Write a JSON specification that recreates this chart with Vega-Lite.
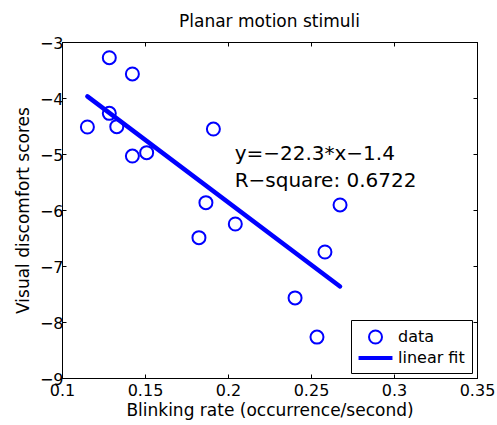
{
  "$schema": "https://vega.github.io/schema/vega-lite/v6.json",
  "width": 415,
  "height": 336,
  "autosize": {"type": "none"},
  "padding": {"left": 62, "top": 42, "right": 20, "bottom": 47},
  "background": "white",
  "config": {
    "font": "DejaVu Sans",
    "view": {"stroke": "black", "strokeWidth": 1},
    "axis": {
      "grid": false,
      "domainColor": "black",
      "domainWidth": 1,
      "tickColor": "black",
      "tickWidth": 1,
      "tickSize": -4,
      "labelFlush": false,
      "labelColor": "black",
      "labelFont": "DejaVu Sans",
      "labelFontSize": 16,
      "titleColor": "black",
      "titleFont": "DejaVu Sans",
      "titleFontSize": 17,
      "titleFontWeight": "normal"
    }
  },
  "title": {
    "text": "Planar motion stimuli",
    "font": "DejaVu Sans",
    "fontSize": 17,
    "fontWeight": "normal",
    "color": "black",
    "baseline": "alphabetic",
    "offset": -9
  },
  "datasets": {
    "points": [
      {"rate": 0.1153, "score": -4.518, "series": "data"},
      {"rate": 0.1285, "score": -3.28, "series": "data"},
      {"rate": 0.1285, "score": -4.274, "series": "data"},
      {"rate": 0.133, "score": -4.512, "series": "data"},
      {"rate": 0.1424, "score": -3.571, "series": "data"},
      {"rate": 0.1424, "score": -5.036, "series": "data"},
      {"rate": 0.151, "score": -4.976, "series": "data"},
      {"rate": 0.1912, "score": -4.554, "series": "data"},
      {"rate": 0.1867, "score": -5.869, "series": "data"},
      {"rate": 0.1825, "score": -6.494, "series": "data"},
      {"rate": 0.2044, "score": -6.25, "series": "data"},
      {"rate": 0.2675, "score": -5.91, "series": "data"},
      {"rate": 0.2584, "score": -6.75, "series": "data"},
      {"rate": 0.2404, "score": -7.57, "series": "data"},
      {"rate": 0.2536, "score": -8.27, "series": "data"}
    ],
    "fit": [
      {"rate": 0.1153, "score": -3.971},
      {"rate": 0.2675, "score": -7.365}
    ],
    "notes": [
      {"rate": 0.204, "score": -5.107, "label": "y=−22.3*x−1.4"},
      {"rate": 0.204, "score": -5.589, "label": "R−square: 0.6722"}
    ]
  },
  "layer": [
    {
      "data": {"name": "points"},
      "mark": {"type": "point", "filled": false, "color": "#0000ff", "strokeWidth": 2, "size": 361, "opacity": 1},
      "encoding": {
        "x": {
          "field": "rate", "type": "quantitative",
          "scale": {"domain": [0.1, 0.35], "nice": false, "zero": false},
          "axis": {"orient": "bottom", "values": [0.1, 0.15, 0.2, 0.25, 0.3, 0.35], "format": "~g", "labelPadding": 8, "title": "Blinking rate (occurrence/second)", "titlePadding": 4}
        },
        "y": {
          "field": "score", "type": "quantitative",
          "scale": {"domain": [-9, -3], "nice": false, "zero": false},
          "axis": {"orient": "left", "values": [-9, -8, -7, -6, -5, -4, -3], "format": "d", "labelPadding": 3, "labelOffset": 1, "title": "Visual discomfort scores", "titlePadding": 7}
        },
        "shape": {
          "field": "series", "type": "nominal",
          "scale": {"domain": ["data", "linear fit"], "range": ["M-0.684,0A0.684,0.684,0,1,1,0.684,0A0.684,0.684,0,1,1,-0.684,0Z", "M-1.68,-0.105H1.68V0.105H-1.68Z"]},
          "legend": {
            "orient": "bottom-right",
            "offset": 5,
            "title": null,
            "padding": 6.5,
            "strokeColor": "black",
            "fillColor": "white",
            "labelFont": "DejaVu Sans",
            "labelFontSize": 16,
            "labelColor": "black",
            "labelLimit": 0,
            "symbolSize": 361,
            "symbolStrokeColor": "#0000ff",
            "symbolFillColor": "transparent",
            "symbolStrokeWidth": 2,
            "symbolOffset": 7.5,
            "labelOffset": 12,
            "rowPadding": 0
          }
        }
      }
    },
    {
      "data": {"name": "fit"},
      "mark": {"type": "line", "color": "#0000ff", "strokeWidth": 4.5, "strokeCap": "round"},
      "encoding": {
        "x": {"field": "rate", "type": "quantitative", "axis": {"orient": "top", "values": [0.1, 0.15, 0.2, 0.25, 0.3, 0.35], "labels": false, "title": null}},
        "y": {"field": "score", "type": "quantitative", "axis": {"orient": "right", "values": [-9, -8, -7, -6, -5, -4, -3], "labels": false, "title": null}}
      }
    },
    {
      "data": {"name": "notes"},
      "mark": {"type": "text", "align": "left", "baseline": "alphabetic", "font": "DejaVu Sans", "fontSize": 20, "color": "black"},
      "encoding": {
        "x": {"field": "rate", "type": "quantitative", "axis": null},
        "y": {"field": "score", "type": "quantitative", "axis": null},
        "text": {"field": "label"}
      }
    }
  ],
  "resolve": {"axis": {"x": "independent", "y": "independent"}}
}
